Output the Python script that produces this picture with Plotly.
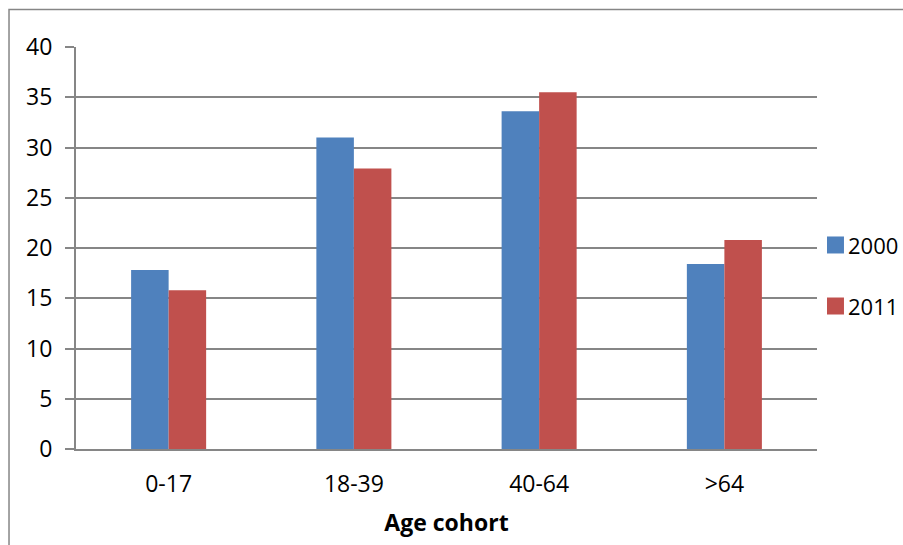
import plotly.graph_objects as go

# Age cohorts and the share in each cohort for the two survey years
categories = ["0-17", "18-39", "40-64", ">64"]
values_2000 = [17.8, 31.0, 33.6, 18.4]
values_2011 = [15.8, 27.9, 35.5, 20.8]
y_ticks = [0, 5, 10, 15, 20, 25, 30, 35, 40]
series_names = ["2000", "2011"]
series_colors = ["#4F81BD", "#C0504D"]

FONT = "Open Sans"
GRID = "#868686"
FS = 23

fig = go.Figure()
for name, vals, col in zip(series_names, [values_2000, values_2011], series_colors):
    fig.add_trace(go.Bar(name=name, x=categories, y=vals,
                         marker=dict(color=col, line=dict(width=0)),
                         showlegend=False))

# Legend drawn by hand on the right: coloured square + label per series
legend_y = [0.5075, 0.3557]
shapes = [dict(type="rect", xref="paper", yref="paper",
               x0=-0.0904, x1=1.3, y0=-0.4, y1=1.0933,
               line=dict(color=GRID, width=1.5), layer="below")]
annotations = []
for name, col, yc in zip(series_names, series_colors, legend_y):
    half_h = 8.5 / 402
    shapes.append(dict(type="rect", xref="paper", yref="paper",
                       x0=1.0135, x1=1.0364, y0=yc - half_h, y1=yc + half_h,
                       fillcolor=col, line=dict(width=0)))
    annotations.append(dict(text=name, xref="paper", yref="paper",
                            x=1.0405, y=yc, xanchor="left", yanchor="middle",
                            showarrow=False, borderpad=0,
                            font=dict(size=22)))

fig.update_layout(
    width=903, height=545,
    margin=dict(l=76, r=86, t=47, b=96),
    paper_bgcolor="white", plot_bgcolor="white",
    font=dict(family=FONT, size=FS, color="black"),
    barmode="group", bargap=0.595, bargroupgap=0,
    xaxis=dict(
        showline=True, linecolor=GRID, linewidth=2,
        ticks="", ticklabelstandoff=13,
        title=dict(text="<b>Age cohort</b>", font=dict(size=FS), standoff=17),
    ),
    yaxis=dict(
        range=[0, 40], tickvals=y_ticks,
        showgrid=True, gridcolor=GRID, gridwidth=1.5,
        showline=True, linecolor=GRID, linewidth=2,
        ticks="outside", ticklen=9, tickcolor=GRID, tickwidth=1.5,
        ticklabelstandoff=8, zeroline=False,
    ),
    shapes=shapes,
    annotations=annotations,
)

fig.write_html("out.html")
